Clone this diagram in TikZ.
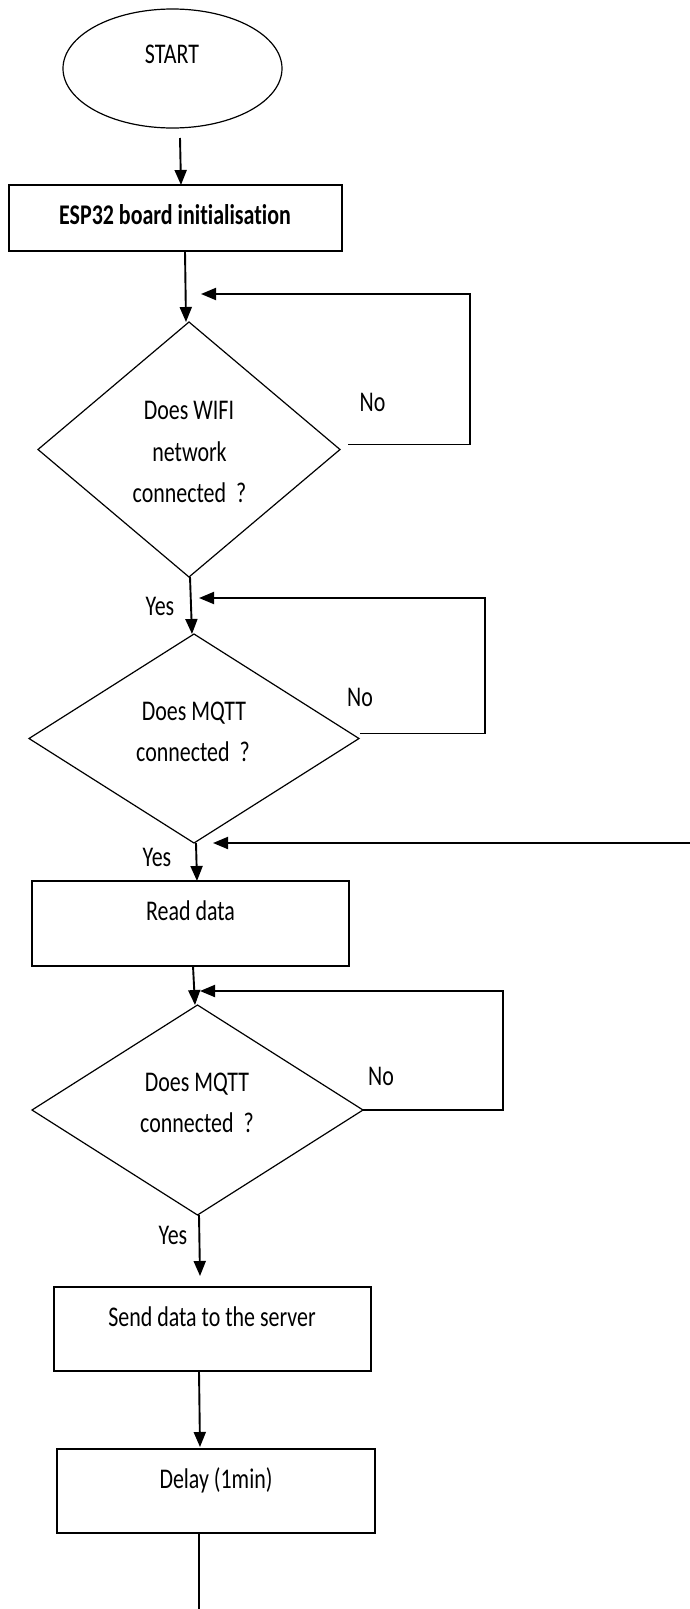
\documentclass[tikz,border=0pt]{standalone}
\usepackage{fontspec}
\setmainfont{Carlito}[FakeStretch=0.77,Ligatures=NoCommon]
\usetikzlibrary{shapes.geometric,arrows.meta}
\begin{document}
\begin{tikzpicture}[x=1pt,y=-1pt,
  every node/.style={inner sep=0pt, outer sep=0pt},
  txt/.style={font=\fontsize{28.5}{41.5}\selectfont, anchor=base},
  btxt/.style={font=\fontsize{28.5}{41.5}\selectfont\bfseries, anchor=base},
  boxnode/.style={draw, line width=1.3pt, rectangle},
  decision/.style={draw, line width=1.2pt, diamond},
  terminal/.style={draw, line width=1.2pt, ellipse},
  arr/.style={-{Triangle[length=15pt,width=12pt]}, line width=1.9pt},
  plainline/.style={line width=1.8pt}]
\useasboundingbox (0,0) rectangle (690,1609);

% shapes
\node[terminal, minimum width=219pt, minimum height=119pt] (start) at (172.5,68.5) {};
\node[boxnode, minimum width=333pt, minimum height=66pt] (esp) at (175.5,218) {};
\node[decision, minimum width=302pt, minimum height=255pt] (d1) at (189,449.5) {};
\node[decision, minimum width=330pt, minimum height=209pt] (d2) at (194,738.5) {};
\node[boxnode, minimum width=317pt, minimum height=85pt] (read) at (190.5,923.5) {};
\node[decision, minimum width=331pt, minimum height=210pt] (d3) at (197.5,1110) {};
\node[boxnode, minimum width=317pt, minimum height=84pt] (send) at (212.5,1329) {};
\node[boxnode, minimum width=318pt, minimum height=84pt] (delay) at (216,1491) {};

% texts
\node[txt] (startT) at (172,63) {START};
\node[btxt] (espT) at (175,224) {ESP32 board initialisation};
\node[txt] (d1a) at (189,419) {Does WIFI};
\node[txt] (d1b) at (189.5,461) {network};
\node[txt] (d1c) at (189.5,502) {connected~~?};
\node[txt] (no1) at (372.5,411) {No};
\node[txt] (yes1) at (160,615) {Yes};
\node[txt] (d2a) at (194,720) {Does MQTT};
\node[txt] (d2b) at (193,761) {connected~~?};
\node[txt] (no2) at (360,706) {No};
\node[txt] (yes2) at (157,866) {Yes};
\node[txt] (readT) at (190.5,920) {Read data};
\node[txt] (d3a) at (197,1091) {Does MQTT};
\node[txt] (d3b) at (197,1132) {connected~~?};
\node[txt] (no3) at (381,1085) {No};
\node[txt] (yes3) at (173,1244) {Yes};
\node[txt] (sendT) at (212,1326) {Send data to the server};
\node[txt] (delayT) at (216,1488) {Delay (1min)};

% free-end coordinates
\coordinate (fb1a) at (470,294);
\coordinate (fb1tip) at (201,294);
\coordinate (fb2a) at (485,598);
\coordinate (fb2tip) at (199,598);
\coordinate (edgeR) at (690,843);
\coordinate (fb4tip) at (213,843);
\coordinate (fb3a) at (503,991);
\coordinate (fb3tip) at (200,991);
\coordinate (bottomEnd) at (199,1609);

% connectors
\draw[arr] ([shift={(7.5pt,-10pt)}]start.south) -- ([xshift=5.5pt]esp.north);
\draw[arr] ([xshift=9.5pt]esp.south) -- ([xshift=-3pt]d1.north);
\draw[arr] ([shift={(8pt,5pt)}]d1.east) -| (fb1a) -- (fb1tip);
\draw[arr] ([xshift=1pt]d1.south) -- ([xshift=-2pt]d2.north);
\draw[arr] ([shift={(1pt,5pt)}]d2.east) -| (fb2a) -- (fb2tip);
\draw[arr] ([xshift=2pt]d2.south) -- ([xshift=6.5pt]read.north);
\draw[arr] (edgeR) -- (fb4tip);
\draw[arr] ([xshift=2.5pt]read.south) -- ([xshift=-2.5pt]d3.north);
\draw[arr] (d3.east) -| (fb3a) -- (fb3tip);
\draw[arr] ([xshift=1.5pt]d3.south) -- ([shift={(-12.5pt,11pt)}]send.north);
\draw[arr] ([xshift=-13.5pt]send.south) -- ([shift={(-16pt,2pt)}]delay.north);
\draw[plainline] ([xshift=-17pt]delay.south) -- (bottomEnd);
\end{tikzpicture}
\end{document}
